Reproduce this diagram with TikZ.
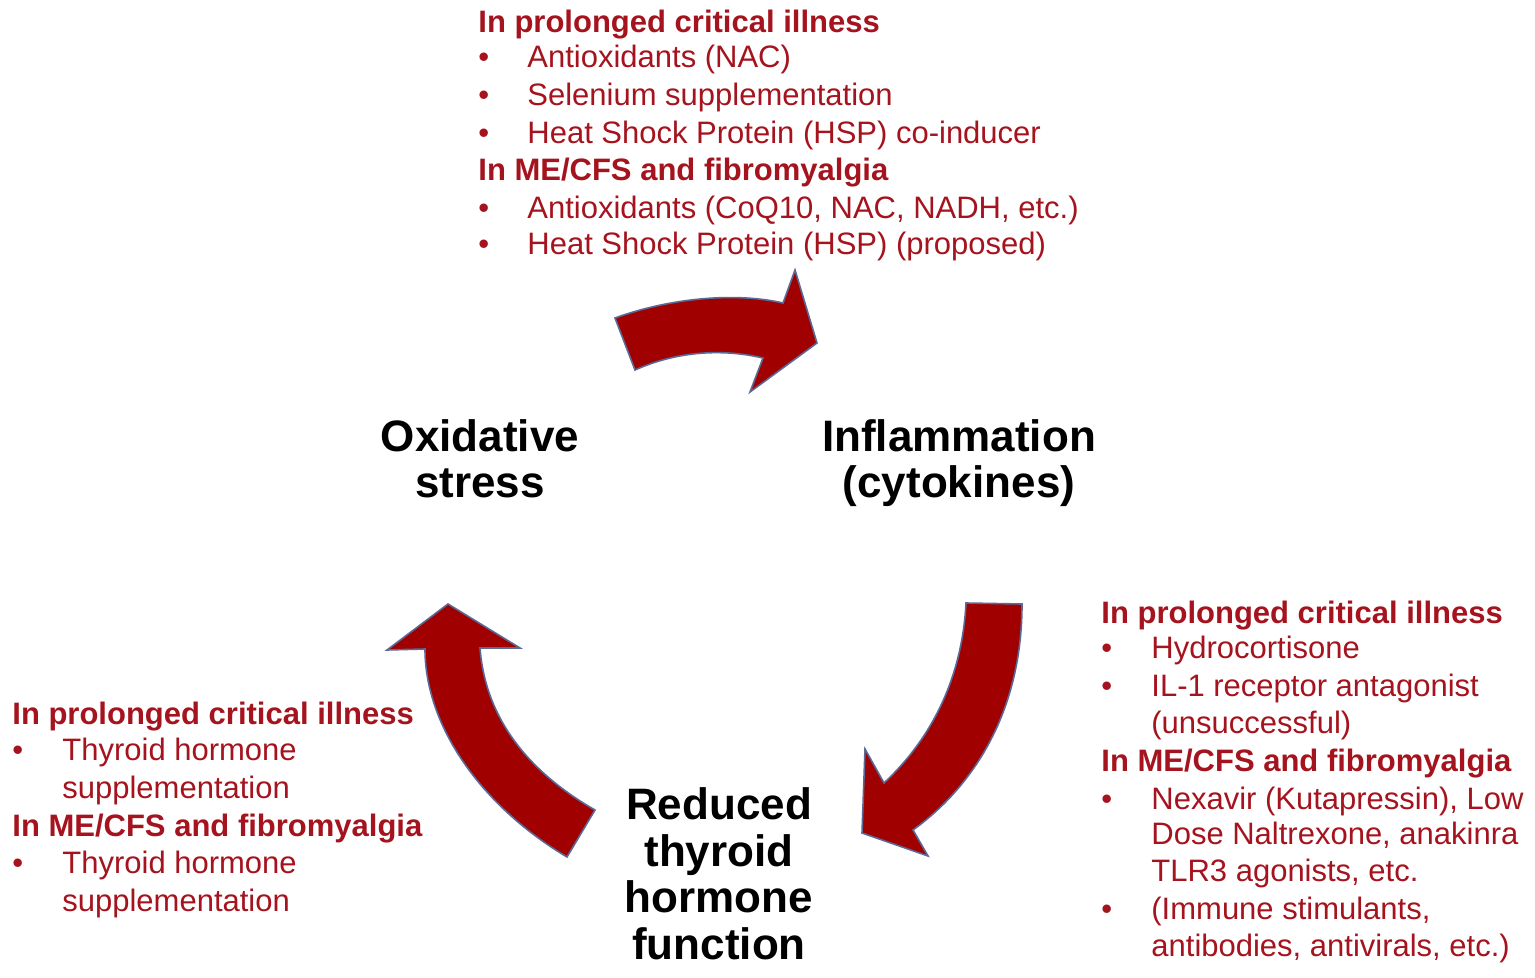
\documentclass[tikz,border=0pt]{standalone}
\usepackage{fontspec}
\setmainfont{Liberation Sans}
\definecolor{txtred}{RGB}{165,20,30}
\definecolor{arrfill}{RGB}{160,0,0}
\definecolor{arredge}{RGB}{90,105,150}
\begin{document}
\begin{tikzpicture}[x=0.5pt,y=-0.5pt,
  hd/.style={anchor=base west, inner sep=0pt, text=txtred, font=\bfseries\fontsize{15.5}{18}\selectfont},
  it/.style={anchor=base west, inner sep=0pt, text=txtred, font=\fontsize{15.5}{18}\selectfont},
  blk/.style={anchor=base, inner sep=0pt, font=\bfseries\fontsize{22}{26}\selectfont},
  bigarrow/.style={fill=arrfill, draw=arredge, line width=0.8pt, line join=miter}]
\useasboundingbox (0,0) rectangle (1535,978);
\fill[white] (0,0) rectangle (1535,978);

% arrows
\draw[bigarrow] (615,318) .. controls (670,298) and (735,292) .. (783,303)
  -- (795,270) -- (817,343) -- (750,392) -- (763,358)
  .. controls (720,348) and (675,352) .. (635,370) -- cycle;
\draw[bigarrow] (966,603) -- (1022,604)
  .. controls (1022,710) and (975,785) .. (913,830)
  -- (928,856) -- (862,833) -- (865,749) -- (884,783)
  .. controls (930,740) and (962,680) .. (966,603) -- cycle;
\draw[bigarrow] (567,857) -- (595,810)
  .. controls (525,770) and (485,715) .. (480,648)
  -- (520,648) -- (448,604) -- (387,650) -- (425,649)
  .. controls (425,725) and (480,805) .. (567,857) -- cycle;

% central labels
\node[blk] (ox1) at (480,451) {Oxidative};
\node[blk] (ox2) at (480,497) {stress};
\node[blk] (in1) at (959,451) {Inflammation};
\node[blk] (in2) at (959,497) {(cytokines)};
\node[blk] (rt1) at (719,819) {Reduced};
\node[blk] (rt2) at (719,866) {thyroid};
\node[blk] (rt3) at (719,912) {hormone};
\node[blk] (rt4) at (719,959) {function};

% top block
\node[hd] (a0) at (478,33) {In prolonged critical illness};
\node[it] (a1b) at (478,68) {•};
\node[it] (a1) at (527,68) {Antioxidants (NAC)};
\node[it] (a2b) at (478,106) {•};
\node[it] (a2) at (527,106) {Selenium supplementation};
\node[it] (a3b) at (478,144) {•};
\node[it] (a3) at (527,144) {Heat Shock Protein (HSP) co-inducer};
\node[hd] (a4) at (478,181) {In ME/CFS and fibromyalgia};
\node[it] (a5b) at (478,219) {•};
\node[it] (a5) at (527,219) {Antioxidants (CoQ10, NAC, NADH, etc.)};
\node[it] (a6b) at (478,255) {•};
\node[it] (a6) at (527,255) {Heat Shock Protein (HSP) (proposed)};

% right block
\node[hd] (b0) at (1101,623) {In prolonged critical illness};
\node[it] (b1b) at (1101,658) {•};
\node[it] (b1) at (1151,658) {Hydrocortisone};
\node[it] (b2b) at (1101,696) {•};
\node[it] (b2) at (1151,696) {IL-1 receptor antagonist};
\node[it] (b3) at (1151,733) {(unsuccessful)};
\node[hd] (b4) at (1101,771) {In ME/CFS and fibromyalgia};
\node[it] (b5b) at (1101,809) {•};
\node[it] (b5) at (1151,809) {Nexavir (Kutapressin), Low};
\node[it] (b6) at (1151,844) {Dose Naltrexone, anakinra};
\node[it] (b7) at (1151,881) {TLR3 agonists, etc.};
\node[it] (b8b) at (1101,919) {•};
\node[it] (b8) at (1151,919) {(Immune stimulants,};
\node[it] (b9) at (1151,956) {antibodies, antivirals, etc.)};

% left block
\node[hd] (c0) at (12,724) {In prolonged critical illness};
\node[it] (c1b) at (12,760) {•};
\node[it] (c1) at (62,760) {Thyroid hormone};
\node[it] (c2) at (62,798) {supplementation};
\node[hd] (c3) at (12,836) {In ME/CFS and fibromyalgia};
\node[it] (c4b) at (12,873) {•};
\node[it] (c4) at (62,873) {Thyroid hormone};
\node[it] (c5) at (62,911) {supplementation};
\end{tikzpicture}
\end{document}
